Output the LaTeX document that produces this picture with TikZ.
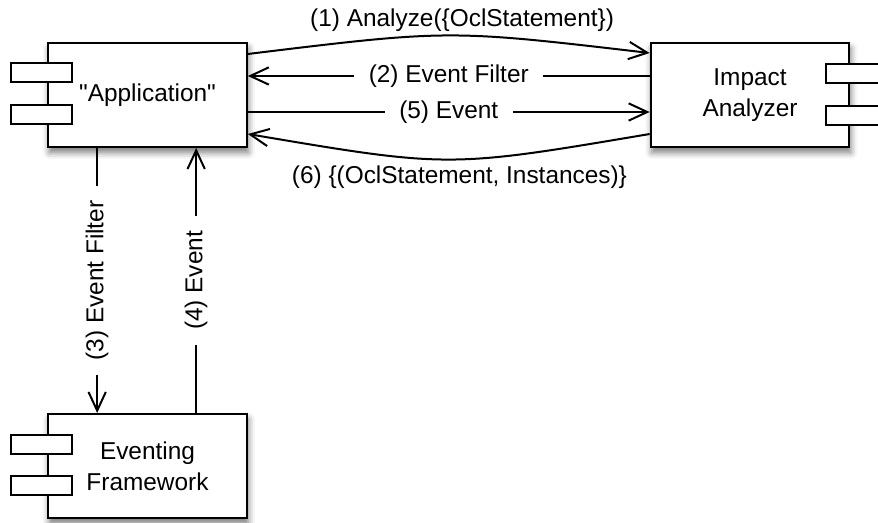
\documentclass[tikz,border=0pt]{standalone}
\usepackage{fontspec}
\setmainfont{Liberation Sans}[Ligatures=TeXOff]
\usetikzlibrary{arrows.meta,calc,shadows.blur}

\begin{document}
\begin{tikzpicture}[x=0.75pt,y=-0.75pt,
  txt/.style={font=\fontsize{18.3}{23}\selectfont},
  comp/.style={txt,draw,line width=1.5pt,fill=white,align=center,
    minimum width=149pt,minimum height=78pt,inner sep=0pt,
    blur shadow={shadow xshift=1pt,shadow yshift=-4pt,shadow blur radius=5pt,shadow opacity=55}},
  tab/.style={draw,line width=1.5pt,fill=white,minimum width=45.75pt,minimum height=14.25pt,inner sep=0pt},
  flow/.style={line width=1.5pt,-{Straight Barb[length=14pt,width=13pt,line width=1.5pt]}},
  gaplbl/.style={txt,fill=white,inner xsep=11pt,inner ysep=1pt},
  curvelbl/.style={txt,inner sep=2pt}
]
\useasboundingbox (0,0) rectangle (878,523);
\clip (0,0) rectangle (878,523);

% components
\node[comp] (app) at (147.5,95) {"Application"};
\node[comp] (ia) at (750,95) {Impact\\Analyzer};
\node[comp] (ef) at (147.5,466) {Eventing\\Framework};

% component tabs
\node[tab] (app-t1) at ($(app.north west)+(-5.5,30.5)$) {};
\node[tab] (app-t2) at ($(app.north west)+(-5.5,73)$) {};
\node[tab] (ia-t1) at ($(ia.north east)+(6.5,31.5)$) {};
\node[tab] (ia-t2) at ($(ia.north east)+(6.5,73.5)$) {};
\node[tab] (ef-t1) at ($(ef.north west)+(-5.5,32)$) {};
\node[tab] (ef-t2) at ($(ef.north west)+(-5.5,73)$) {};

% attachment points on the box edges
\coordinate (a1) at ($(app.north east)+(0,12)$);
\coordinate (b1) at ($(ia.north west)+(0,11)$);
\coordinate (a2) at ($(app.north east)+(0,34)$);
\coordinate (b2) at ($(ia.north west)+(0,34)$);
\coordinate (a5) at ($(app.north east)+(0,70)$);
\coordinate (b5) at ($(ia.north west)+(0,70)$);
\coordinate (a6) at ($(app.north east)+(0,92)$);
\coordinate (b6) at ($(ia.north west)+(0,92)$);
\coordinate (a3) at ($(app.south west)+(50,0)$);
\coordinate (e3) at ($(ef.north west)+(50,0)$);
\coordinate (a4) at ($(app.south west)+(149,0)$);
\coordinate (e4) at ($(ef.north west)+(149,0)$);

% messages between the application and the impact analyzer
\draw[flow] (a1) .. controls ($(a1)!0.5!(b1)+(0,-24)$) .. (b1)
  node[curvelbl,midway,above=0pt,xshift=10pt] {(1) Analyze(\{OclStatement\})};
\draw[flow] (b2) -- (a2) node[gaplbl,midway] {(2) Event Filter};
\draw[flow] (a5) -- (b5) node[gaplbl,midway] {(5) Event};
\draw[flow] (b6) .. controls ($(a6)!0.5!(b6)+(0,34)$) .. (a6)
  node[curvelbl,midway,below=2pt,xshift=8pt] {(6) \{(OclStatement, Instances)\}};

% messages between the application and the eventing framework
\draw[flow] (a3) -- (e3) node[gaplbl,midway,rotate=90] {(3) Event Filter};
\draw[flow] (e4) -- (a4) node[gaplbl,midway,rotate=90] {(4) Event};
\end{tikzpicture}
\end{document}
